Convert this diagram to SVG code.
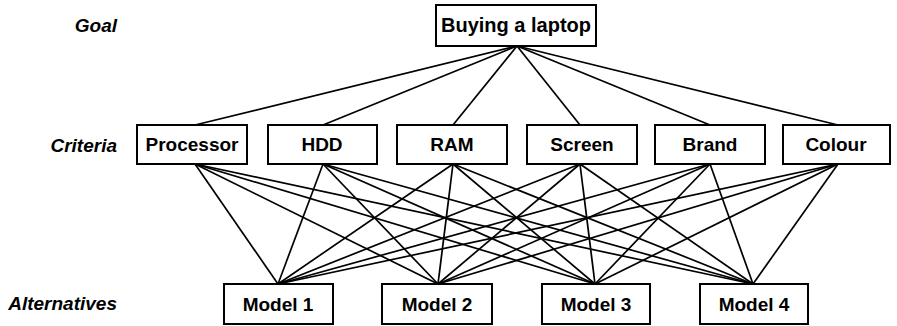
<svg xmlns="http://www.w3.org/2000/svg" width="897" height="326" viewBox="0 0 897 326">
<style>
.box{fill:#fff;stroke:#000;stroke-width:2}
.t{font-family:"Liberation Sans",Arial,sans-serif;font-weight:bold;font-size:19px;text-anchor:middle;fill:#000}
.lbl{font-family:"Liberation Sans",Arial,sans-serif;font-weight:bold;font-style:italic;font-size:19px;text-anchor:end;fill:#000}
.c line{stroke:#000;stroke-width:1.7}
</style>
<rect width="897" height="326" fill="#fff"/>
<text class="lbl" x="117" y="32">Goal</text>
<text class="lbl" x="117" y="152">Criteria</text>
<text class="lbl" x="117" y="310">Alternatives</text>
<g class="c" id="connectors">
<line x1="517" y1="46" x2="195" y2="125"/>
<line x1="517" y1="46" x2="323" y2="125"/>
<line x1="517" y1="46" x2="453" y2="125"/>
<line x1="517" y1="46" x2="580" y2="125"/>
<line x1="517" y1="46" x2="710" y2="125"/>
<line x1="517" y1="46" x2="838" y2="125"/>
<line x1="195" y1="164" x2="278" y2="284"/><line x1="195" y1="164" x2="438" y2="284"/><line x1="195" y1="164" x2="595" y2="284"/><line x1="195" y1="164" x2="753" y2="284"/>
<line x1="323" y1="164" x2="278" y2="284"/><line x1="323" y1="164" x2="438" y2="284"/><line x1="323" y1="164" x2="595" y2="284"/><line x1="323" y1="164" x2="753" y2="284"/>
<line x1="453" y1="164" x2="278" y2="284"/><line x1="453" y1="164" x2="438" y2="284"/><line x1="453" y1="164" x2="595" y2="284"/><line x1="453" y1="164" x2="753" y2="284"/>
<line x1="580" y1="164" x2="278" y2="284"/><line x1="580" y1="164" x2="438" y2="284"/><line x1="580" y1="164" x2="595" y2="284"/><line x1="580" y1="164" x2="753" y2="284"/>
<line x1="710" y1="164" x2="278" y2="284"/><line x1="710" y1="164" x2="438" y2="284"/><line x1="710" y1="164" x2="595" y2="284"/><line x1="710" y1="164" x2="753" y2="284"/>
<line x1="838" y1="164" x2="278" y2="284"/><line x1="838" y1="164" x2="438" y2="284"/><line x1="838" y1="164" x2="595" y2="284"/><line x1="838" y1="164" x2="753" y2="284"/>
</g>
<g id="goal"><rect class="box" x="436" y="5" width="160" height="41"/><text class="t" x="516" y="32" style="font-size:20px">Buying a laptop</text></g>
<g id="processor"><rect class="box" x="137" y="125" width="110" height="39"/><text class="t" x="192" y="151">Processor</text></g>
<g id="hdd"><rect class="box" x="268" y="125" width="109" height="39"/><text class="t" x="322" y="151">HDD</text></g>
<g id="ram"><rect class="box" x="397" y="125" width="110" height="39"/><text class="t" x="452" y="151">RAM</text></g>
<g id="screen"><rect class="box" x="527" y="125" width="110" height="39"/><text class="t" x="582" y="151">Screen</text></g>
<g id="brand"><rect class="box" x="655" y="125" width="110" height="39"/><text class="t" x="710" y="151">Brand</text></g>
<g id="colour"><rect class="box" x="783" y="125" width="107" height="39"/><text class="t" x="836" y="151">Colour</text></g>
<g id="model1"><rect class="box" x="224" y="284" width="109" height="40"/><text class="t" x="278" y="311">Model 1</text></g>
<g id="model2"><rect class="box" x="382" y="284" width="110" height="40"/><text class="t" x="437" y="311">Model 2</text></g>
<g id="model3"><rect class="box" x="542" y="284" width="108" height="40"/><text class="t" x="596" y="311">Model 3</text></g>
<g id="model4"><rect class="box" x="700" y="284" width="108" height="40"/><text class="t" x="754" y="311">Model 4</text></g>
</svg>
